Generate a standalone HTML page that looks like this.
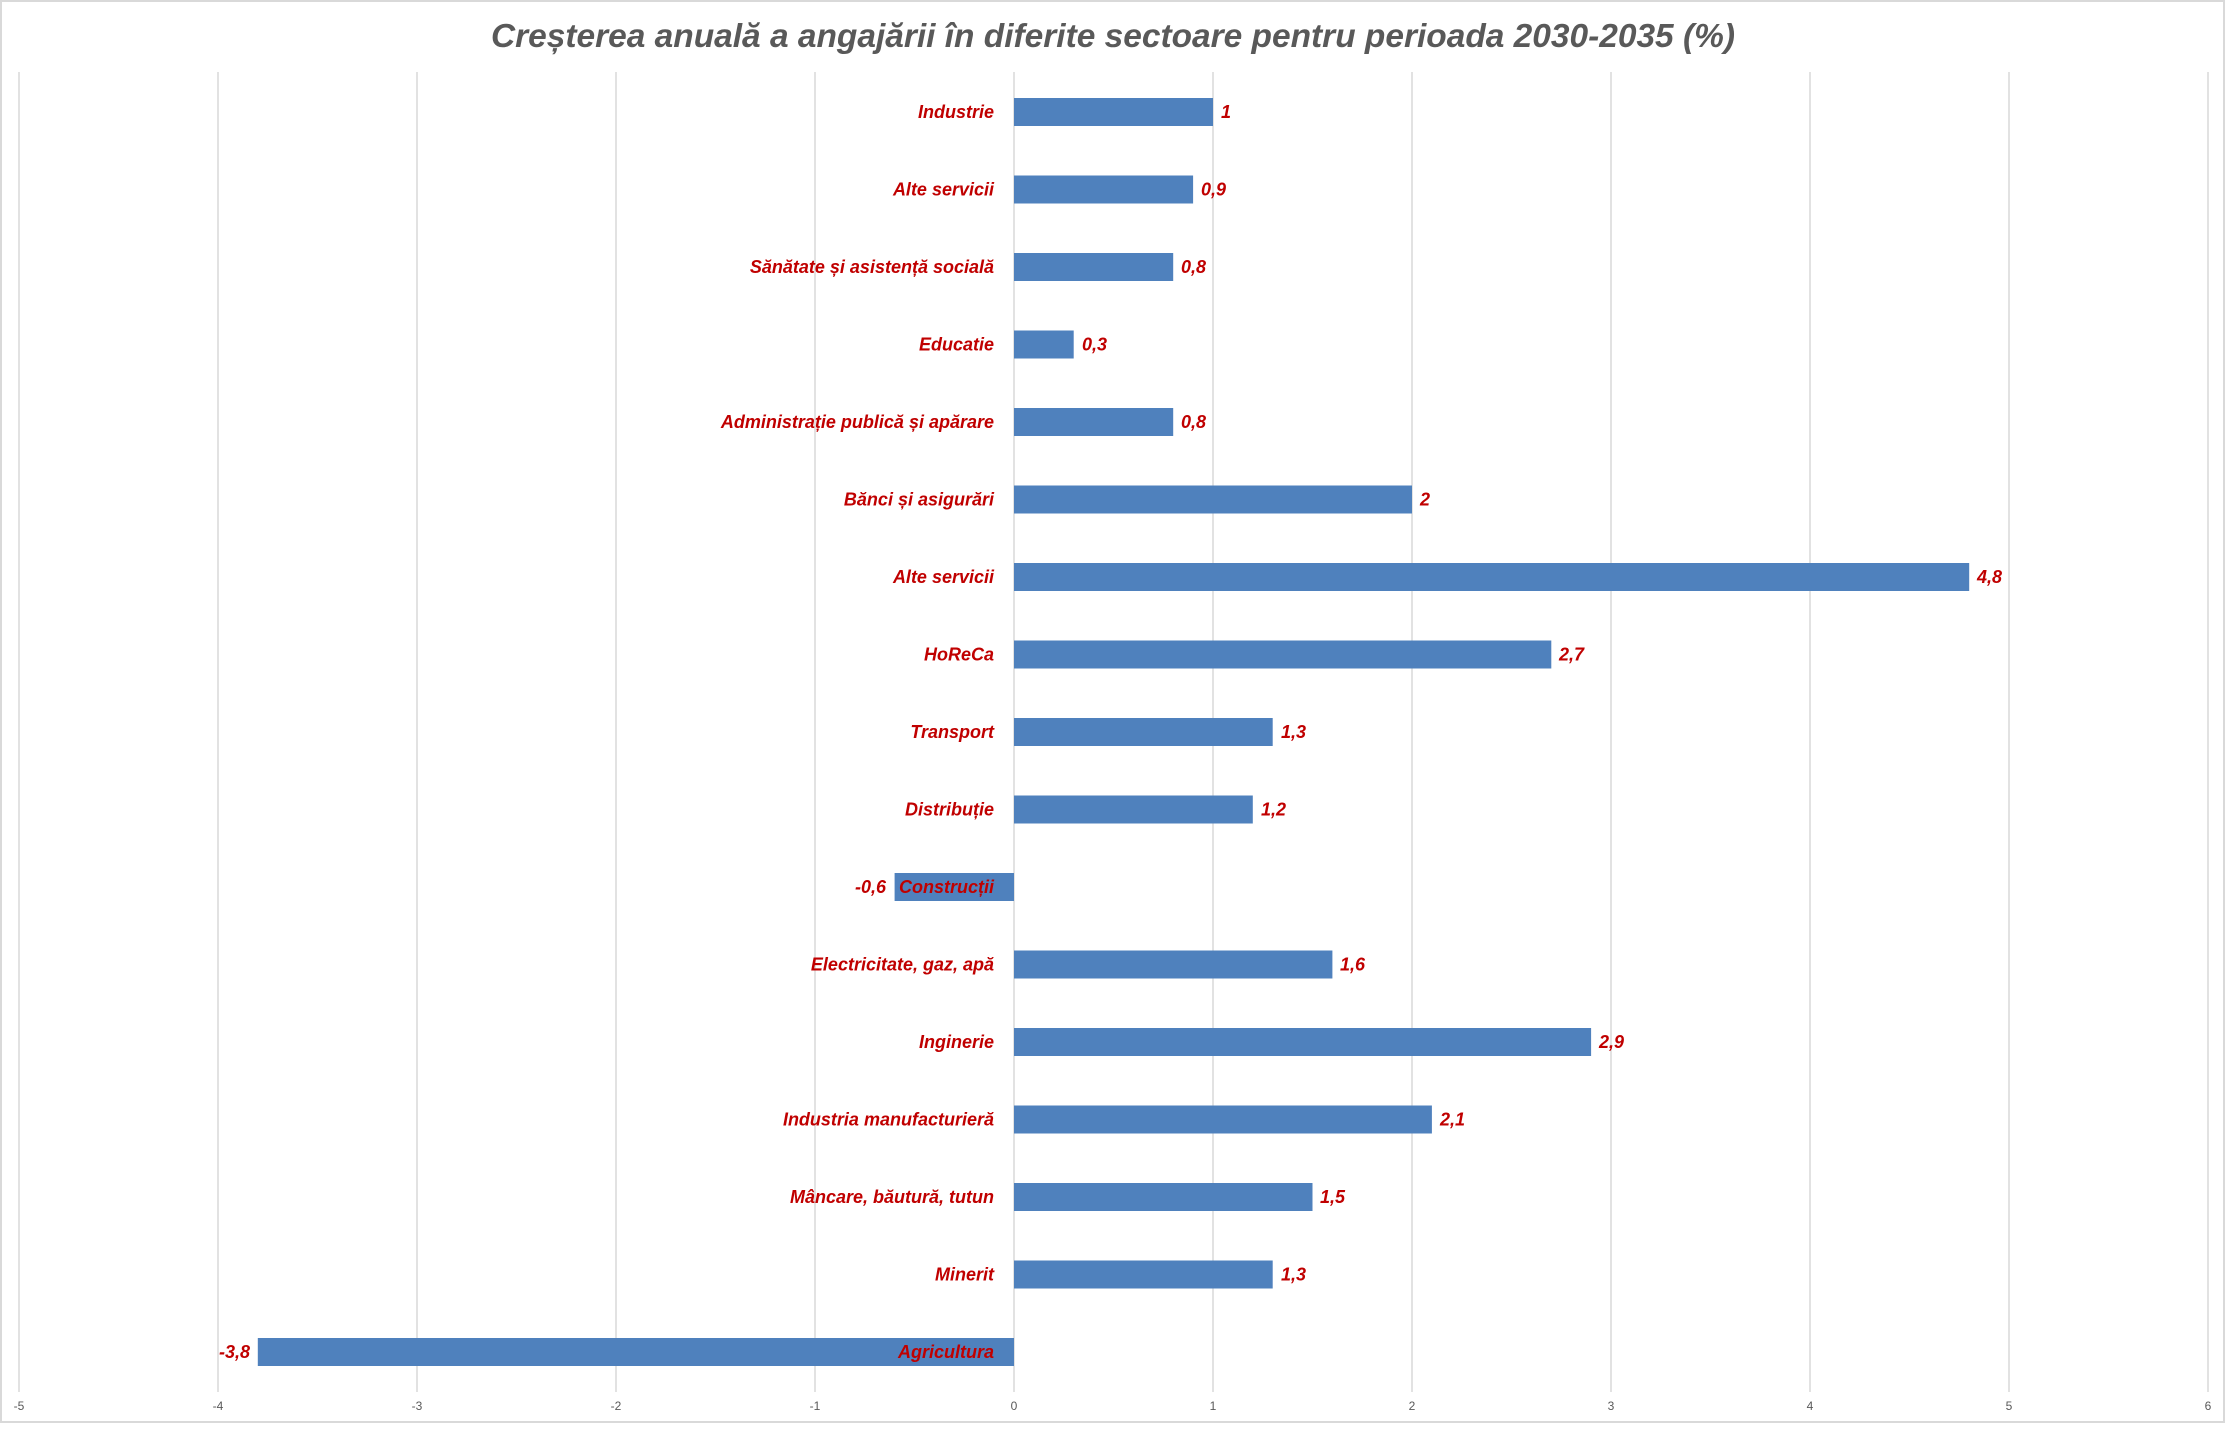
<!DOCTYPE html>
<html><head><meta charset="utf-8"><style>
html,body{margin:0;padding:0;background:#fff;}
svg{display:block;}
text{font-family:"Liberation Sans",sans-serif;}
</style></head><body>
<svg width="2226" height="1440" xmlns="http://www.w3.org/2000/svg">
<rect x="1" y="1" width="2223" height="1421" fill="#fff" stroke="#d9d9d9" stroke-width="2"/>
<text x="1113" y="47" text-anchor="middle" font-size="33" font-weight="bold" font-style="italic" fill="#595959" textLength="1244" lengthAdjust="spacingAndGlyphs">Creșterea anuală a angajării în diferite sectoare  pentru perioada  2030-2035 (%)</text>
<g stroke="#d9d9d9" stroke-width="1.5">
<line x1="19" y1="72" x2="19" y2="1392"/>
<line x1="218" y1="72" x2="218" y2="1392"/>
<line x1="417" y1="72" x2="417" y2="1392"/>
<line x1="616" y1="72" x2="616" y2="1392"/>
<line x1="815" y1="72" x2="815" y2="1392"/>
<line x1="1014" y1="72" x2="1014" y2="1392"/>
<line x1="1213" y1="72" x2="1213" y2="1392"/>
<line x1="1412" y1="72" x2="1412" y2="1392"/>
<line x1="1611" y1="72" x2="1611" y2="1392"/>
<line x1="1810" y1="72" x2="1810" y2="1392"/>
<line x1="2009" y1="72" x2="2009" y2="1392"/>
<line x1="2208" y1="72" x2="2208" y2="1392"/>
</g>
<g font-size="12" fill="#595959" text-anchor="middle">
<text x="19" y="1410">-5</text><text x="218" y="1410">-4</text><text x="417" y="1410">-3</text><text x="616" y="1410">-2</text><text x="815" y="1410">-1</text><text x="1014" y="1410">0</text><text x="1213" y="1410">1</text><text x="1412" y="1410">2</text><text x="1611" y="1410">3</text><text x="1810" y="1410">4</text><text x="2009" y="1410">5</text><text x="2208" y="1410">6</text>
</g>
<g fill="#4f81bd">
<rect x="1014" y="98" width="199" height="28"/>
<rect x="1014" y="175.5" width="179.1" height="28"/>
<rect x="1014" y="253" width="159.2" height="28"/>
<rect x="1014" y="330.5" width="59.7" height="28"/>
<rect x="1014" y="408" width="159.2" height="28"/>
<rect x="1014" y="485.5" width="398" height="28"/>
<rect x="1014" y="563" width="955.2" height="28"/>
<rect x="1014" y="640.5" width="537.3" height="28"/>
<rect x="1014" y="718" width="258.7" height="28"/>
<rect x="1014" y="795.5" width="238.8" height="28"/>
<rect x="894.6" y="873" width="119.4" height="28"/>
<rect x="1014" y="950.5" width="318.4" height="28"/>
<rect x="1014" y="1028" width="577.1" height="28"/>
<rect x="1014" y="1105.5" width="417.9" height="28"/>
<rect x="1014" y="1183" width="298.5" height="28"/>
<rect x="1014" y="1260.5" width="258.7" height="28"/>
<rect x="257.8" y="1338" width="756.2" height="28"/>
</g>
<g font-size="18" font-weight="bold" font-style="italic" fill="#c00000" text-anchor="end">
<text x="994" y="118">Industrie</text>
<text x="994" y="195.5">Alte servicii</text>
<text x="994" y="273">Sănătate și asistență socială</text>
<text x="994" y="350.5">Educatie</text>
<text x="994" y="428">Administrație  publică și apărare</text>
<text x="994" y="505.5">Bănci și asigurări</text>
<text x="994" y="583">Alte servicii</text>
<text x="994" y="660.5">HoReCa</text>
<text x="994" y="738">Transport</text>
<text x="994" y="815.5">Distribuție</text>
<text x="994" y="893">Construcții</text>
<text x="994" y="970.5">Electricitate, gaz, apă</text>
<text x="994" y="1048">Inginerie</text>
<text x="994" y="1125.5">Industria manufacturieră</text>
<text x="994" y="1203">Mâncare, băutură, tutun</text>
<text x="994" y="1280.5">Minerit</text>
<text x="994" y="1358">Agricultura</text>
<text x="886" y="893">-0,6</text>
<text x="250" y="1358">-3,8</text>
</g>
<g font-size="18" font-weight="bold" font-style="italic" fill="#c00000">
<text x="1221" y="118">1</text>
<text x="1201" y="195.5">0,9</text>
<text x="1181" y="273">0,8</text>
<text x="1082" y="350.5">0,3</text>
<text x="1181" y="428">0,8</text>
<text x="1420" y="505.5">2</text>
<text x="1977" y="583">4,8</text>
<text x="1559" y="660.5">2,7</text>
<text x="1281" y="738">1,3</text>
<text x="1261" y="815.5">1,2</text>
<text x="1340" y="970.5">1,6</text>
<text x="1599" y="1048">2,9</text>
<text x="1440" y="1125.5">2,1</text>
<text x="1320" y="1203">1,5</text>
<text x="1281" y="1280.5">1,3</text>
</g>
</svg>
</body></html>
